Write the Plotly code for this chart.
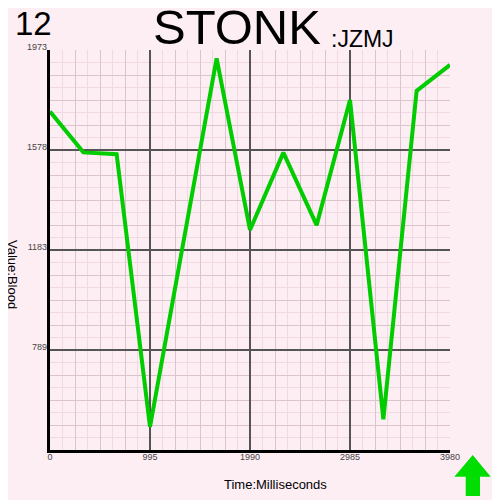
import plotly.graph_objects as go

# readings
time_ms = [0, 332, 663, 995, 1658, 1990, 2322, 2653, 2985, 3317, 3648, 3980]
blood = [1730, 1569, 1562, 486, 1940, 1263, 1568, 1282, 1776, 516, 1812, 1914]

x_ticks = [0, 995, 1990, 2985, 3980]
y_ticks = [789.2, 1183.8, 1578.4, 1973]
y_labels = ["789", "1183", "1578", "1973"]

x_min, x_max = 0, 3980
y_min, y_max = 394.6, 1973

bg = "#fdeef4"
major = "#555555"
mid = "#dcc4cd"
light = "#f0d9e2"
green = "#00cc00"

fig = go.Figure()
# empty trace so the fine-grid axes get drawn
fig.add_trace(go.Scatter(x=[], y=[], mode="lines", hoverinfo="skip"))
fig.add_trace(go.Scatter(x=time_ms, y=blood, mode="lines", xaxis="x2", yaxis="y2",
                         line=dict(color=green, width=4), hoverinfo="skip"))

# the page has an 8px body margin, so the figure is 8px smaller
fig.update_layout(
    width=492, height=492,
    margin=dict(l=42, r=50, t=42, b=50),
    paper_bgcolor=bg, plot_bgcolor=bg,
    showlegend=False,
    font=dict(family="Liberation Sans, Arial", color="#333333"),
    # fine grid underneath
    xaxis=dict(range=[x_min, x_max], tickmode="linear", tick0=0, dtick=995 / 4,
               showgrid=True, gridcolor=mid, gridwidth=1, showticklabels=False,
               zeroline=False, ticks="",
               showline=True, linecolor="black", linewidth=3,
               minor=dict(tickmode="linear", tick0=0, dtick=995 / 8,
                          showgrid=True, gridcolor=light, gridwidth=1)),
    yaxis=dict(range=[y_min, y_max], tickmode="linear", tick0=0, dtick=394.6 / 4,
               showgrid=True, gridcolor=mid, gridwidth=1, showticklabels=False,
               zeroline=False, ticks="",
               showline=True, linecolor="black", linewidth=3,
               minor=dict(tickmode="linear", tick0=0, dtick=394.6 / 8,
                          showgrid=True, gridcolor=light, gridwidth=1)),
    # major grid and labels on top
    xaxis2=dict(range=[x_min, x_max], overlaying="x", side="bottom",
                tickmode="array", tickvals=x_ticks,
                showgrid=True, gridcolor=major, gridwidth=1.5, zeroline=False,
                ticks="", tickfont=dict(size=9, color="#444444")),
    yaxis2=dict(range=[y_min, y_max], overlaying="y", side="left",
                tickmode="array", tickvals=y_ticks, ticktext=y_labels,
                showgrid=True, gridcolor=major, gridwidth=1.5, zeroline=False,
                ticks="", ticklabelstandoff=2, ticklabelshift=-3,
                tickfont=dict(size=9, color="#444444")),
)

fig.add_annotation(text="STONK", xref="paper", yref="paper", x=0.255, y=0.9875,
                   xanchor="left", yanchor="bottom", showarrow=False, borderpad=0,
                   font=dict(size=49, color="black"))
fig.add_annotation(text=":JZMJ", xref="paper", yref="paper", x=0.7, y=0.9925,
                   xanchor="left", yanchor="bottom", showarrow=False, borderpad=0,
                   font=dict(size=23, color="black"))
fig.add_annotation(text="12", xref="paper", yref="paper", x=-0.09, y=1.0175,
                   xanchor="left", yanchor="bottom", showarrow=False, borderpad=0,
                   font=dict(size=33, color="black"))
fig.add_annotation(text="Value:Blood", xref="paper", yref="paper", x=-0.0925, y=0.44,
                   textangle=90, xanchor="center", yanchor="middle", showarrow=False,
                   borderpad=0, font=dict(size=13, color="black"))
fig.add_annotation(text="Time:Milliseconds", xref="paper", yref="paper", x=0.5625, y=-0.0875,
                   xanchor="center", yanchor="middle", showarrow=False,
                   font=dict(size=13, color="black"))

# green up arrow in the corner
fig.add_shape(type="path", xref="paper", yref="paper",
              path="M 1.0568 -0.0125 L 1.1018 -0.0668 L 1.075 -0.0668 L 1.075 -0.115 "
                   "L 1.0393 -0.115 L 1.0393 -0.0668 L 1.0108 -0.0668 Z",
              fillcolor="#00dd00", line=dict(width=0))

fig.write_html("out.html")
